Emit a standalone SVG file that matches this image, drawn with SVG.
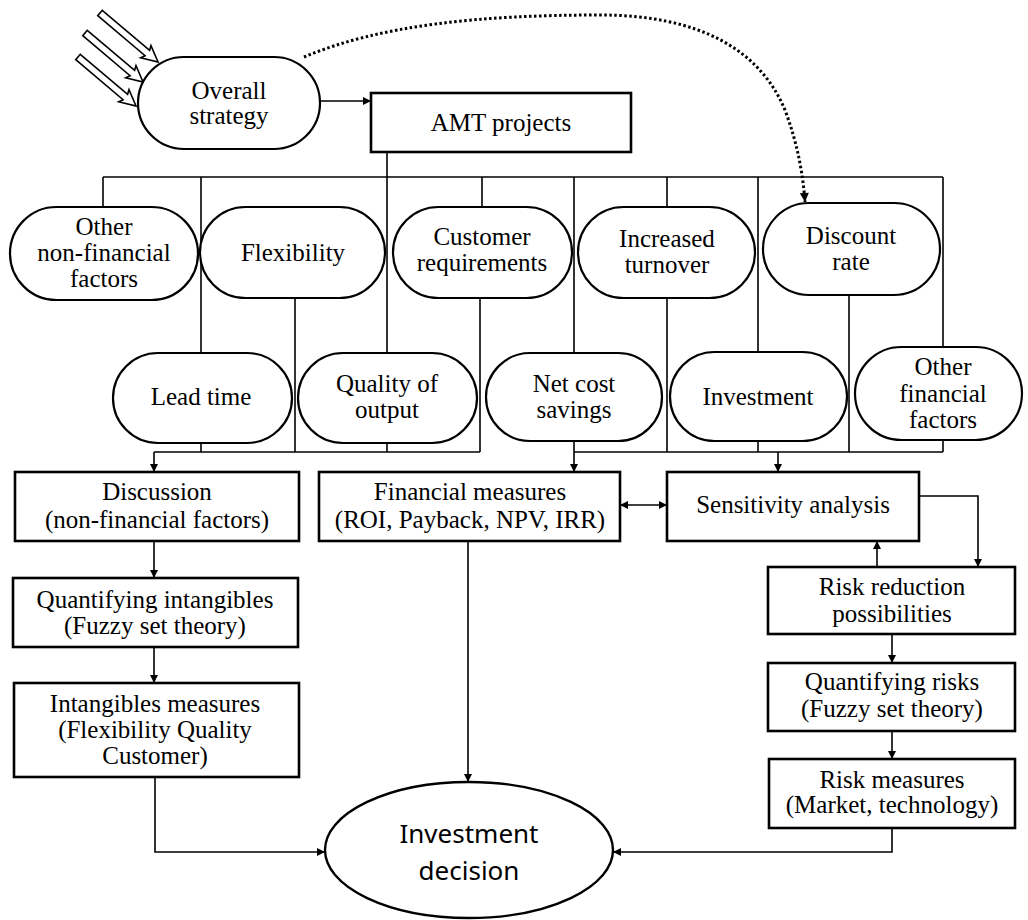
<svg xmlns="http://www.w3.org/2000/svg" width="1028" height="920" viewBox="0 0 1028 920">
<style>
.pill{fill:#fff;stroke:#000;stroke-width:2.2}
.box{fill:#fff;stroke:#000;stroke-width:2.6}
.t{font-family:"Liberation Serif","Times New Roman",serif;font-size:25px;fill:#000;text-anchor:middle}
.ts{font-family:"Noto Sans","Open Sans",sans-serif;font-size:26px;fill:#000;text-anchor:middle}
.c{fill:none;stroke:#000;stroke-width:1.6}
.ca{fill:none;stroke:#000;stroke-width:1.6;marker-end:url(#ah)}
.dot{fill:none;stroke:#000;stroke-width:3;stroke-dasharray:2.5 2.5;marker-end:url(#ahd)}
.hollow{fill:#fff;stroke:#000;stroke-width:1.6}
</style>
<defs>
<marker id="ah" viewBox="0 0 10 10" refX="10" refY="5" markerWidth="10" markerHeight="8" markerUnits="userSpaceOnUse" orient="auto-start-reverse"><path d="M0,0 L10,5 L0,10 z" fill="#000"/></marker>
<marker id="ahd" viewBox="0 0 10 10" refX="10" refY="5" markerWidth="12" markerHeight="9" markerUnits="userSpaceOnUse" orient="auto"><path d="M0,0 L10,5 L0,10 z" fill="#000"/></marker>
<path id="harrow" d="M0,-3.5 L62,-3.5 L60,-8 L76,0 L60,8 L62,3.5 L0,3.5 Z"/>
</defs>
<rect width="1028" height="920" fill="#fff"/>

<g id="inputs">
<use href="#harrow" class="hollow" transform="translate(100,13) rotate(40.2)"/>
<use href="#harrow" class="hollow" transform="translate(85,33) rotate(40.2)"/>
<use href="#harrow" class="hollow" transform="translate(78,57) rotate(40.2)"/>
</g>

<g id="connectors">
<path class="dot" d="M304,57 C380,25 480,15 600,15 C700,15 760,50 785,110 C798,145 803,175 805,202"/>
<path class="ca" d="M320,101 L371,101"/>
<path class="c" d="M387,152 L387,353"/>
<path class="c" d="M103,177 L943,177"/>
<path class="c" d="M103,177 L103,207"/>
<path class="c" d="M201,177 L201,353"/>
<path class="c" d="M482,177 L482,207"/>
<path class="c" d="M574,177 L574,353"/>
<path class="c" d="M667,177 L667,207"/>
<path class="c" d="M758,177 L758,352"/>
<path class="c" d="M943,177 L943,347"/>
<path class="c" d="M154,452 L480,452"/>
<path class="c" d="M201,443 L201,452"/>
<path class="c" d="M295,298 L295,452"/>
<path class="c" d="M387,443 L387,452"/>
<path class="c" d="M480,298 L480,452"/>
<path class="ca" d="M154,452 L154,472"/>
<path class="c" d="M574,452 L943,452"/>
<path class="ca" d="M574,441 L574,472"/>
<path class="c" d="M667,298 L667,452"/>
<path class="c" d="M758,441 L758,452"/>
<path class="c" d="M849,295 L849,452"/>
<path class="c" d="M943,440 L943,452"/>
<path class="ca" d="M778,452 L778,472"/>
<path class="ca" d="M620,505 L667,505" style="marker-start:url(#ah)"/>
<path class="ca" d="M919,496 L978,496 L978,567"/>
<path class="ca" d="M877,567 L877,541"/>
<path class="ca" d="M892,634 L892,663"/>
<path class="ca" d="M892,731 L892,759"/>
<path class="ca" d="M892,828 L892,852 L613,852"/>
<path class="ca" d="M154,541 L154,578"/>
<path class="ca" d="M154,647 L154,683"/>
<path class="ca" d="M155,777 L155,852 L325,852"/>
<path class="ca" d="M468,541 L468,782"/>
</g>

<g id="overall-strategy">
<rect class="pill" x="138" y="57" width="182" height="92" rx="46"/>
<text class="t" x="229" y="99">Overall</text>
<text class="t" x="229" y="124">strategy</text>
</g>
<g id="amt-projects">
<rect class="box" x="371" y="93" width="260" height="59"/>
<text class="t" x="501" y="131">AMT projects</text>
</g>

<g id="other-non-financial">
<rect class="pill" x="10" y="207" width="188" height="93" rx="46.5"/>
<text class="t" x="104" y="235">Other</text>
<text class="t" x="104" y="261">non-financial</text>
<text class="t" x="104" y="287">factors</text>
</g>
<g id="flexibility">
<rect class="pill" x="200" y="207" width="185" height="91" rx="45.5"/>
<text class="t" x="293" y="261">Flexibility</text>
</g>
<g id="customer-requirements">
<rect class="pill" x="393" y="207" width="179" height="91" rx="45.5"/>
<text class="t" x="482" y="245">Customer</text>
<text class="t" x="482" y="271">requirements</text>
</g>
<g id="increased-turnover">
<rect class="pill" x="578" y="207" width="177" height="91" rx="45.5"/>
<text class="t" x="667" y="247">Increased</text>
<text class="t" x="667" y="273">turnover</text>
</g>
<g id="discount-rate">
<rect class="pill" x="763" y="203" width="177" height="92" rx="46"/>
<text class="t" x="851" y="244">Discount</text>
<text class="t" x="851" y="270">rate</text>
</g>

<g id="lead-time">
<rect class="pill" x="113" y="353" width="179" height="90" rx="45"/>
<text class="t" x="201" y="405">Lead time</text>
</g>
<g id="quality-of-output">
<rect class="pill" x="298" y="353" width="179" height="90" rx="45"/>
<text class="t" x="387" y="392">Quality of</text>
<text class="t" x="387" y="418">output</text>
</g>
<g id="net-cost-savings">
<rect class="pill" x="486" y="353" width="176" height="88" rx="44"/>
<text class="t" x="574" y="392">Net cost</text>
<text class="t" x="574" y="418">savings</text>
</g>
<g id="investment">
<rect class="pill" x="670" y="352" width="177" height="89" rx="44.5"/>
<text class="t" x="758" y="405">Investment</text>
</g>
<g id="other-financial">
<rect class="pill" x="855" y="347" width="167" height="93" rx="46.5"/>
<text class="t" x="943" y="375">Other</text>
<text class="t" x="943" y="402">financial</text>
<text class="t" x="943" y="428">factors</text>
</g>

<g id="discussion">
<rect class="box" x="15" y="472" width="284" height="69"/>
<text class="t" x="157" y="500">Discussion</text>
<text class="t" x="157" y="528">(non-financial factors)</text>
</g>
<g id="financial-measures">
<rect class="box" x="319" y="472" width="301" height="69"/>
<text class="t" x="470" y="500">Financial measures</text>
<text class="t" x="470" y="528">(ROI, Payback, NPV, IRR)</text>
</g>
<g id="sensitivity-analysis">
<rect class="box" x="667" y="472" width="252" height="69"/>
<text class="t" x="793" y="513">Sensitivity analysis</text>
</g>
<g id="risk-reduction">
<rect class="box" x="768" y="567" width="247" height="67"/>
<text class="t" x="892" y="595">Risk reduction</text>
<text class="t" x="892" y="622">possibilities</text>
</g>
<g id="quantifying-risks">
<rect class="box" x="768" y="663" width="247" height="68"/>
<text class="t" x="892" y="690">Quantifying risks</text>
<text class="t" x="892" y="717">(Fuzzy set theory)</text>
</g>
<g id="risk-measures">
<rect class="box" x="769" y="759" width="246" height="69"/>
<text class="t" x="892" y="788">Risk measures</text>
<text class="t" x="892" y="813">(Market, technology)</text>
</g>
<g id="quantifying-intangibles">
<rect class="box" x="13" y="578" width="285" height="69"/>
<text class="t" x="155" y="608">Quantifying intangibles</text>
<text class="t" x="155" y="634">(Fuzzy set theory)</text>
</g>
<g id="intangibles-measures">
<rect class="box" x="14" y="683" width="285" height="94"/>
<text class="t" x="155" y="712">Intangibles measures</text>
<text class="t" x="155" y="738">(Flexibility Quality</text>
<text class="t" x="155" y="764">Customer)</text>
</g>
<g id="investment-decision">
<ellipse cx="469" cy="850" rx="144" ry="68" fill="#fff" stroke="#000" stroke-width="2.4"/>
<text class="ts" x="469" y="843">Investment</text>
<text class="ts" x="469" y="880">decision</text>
</g>
</svg>
